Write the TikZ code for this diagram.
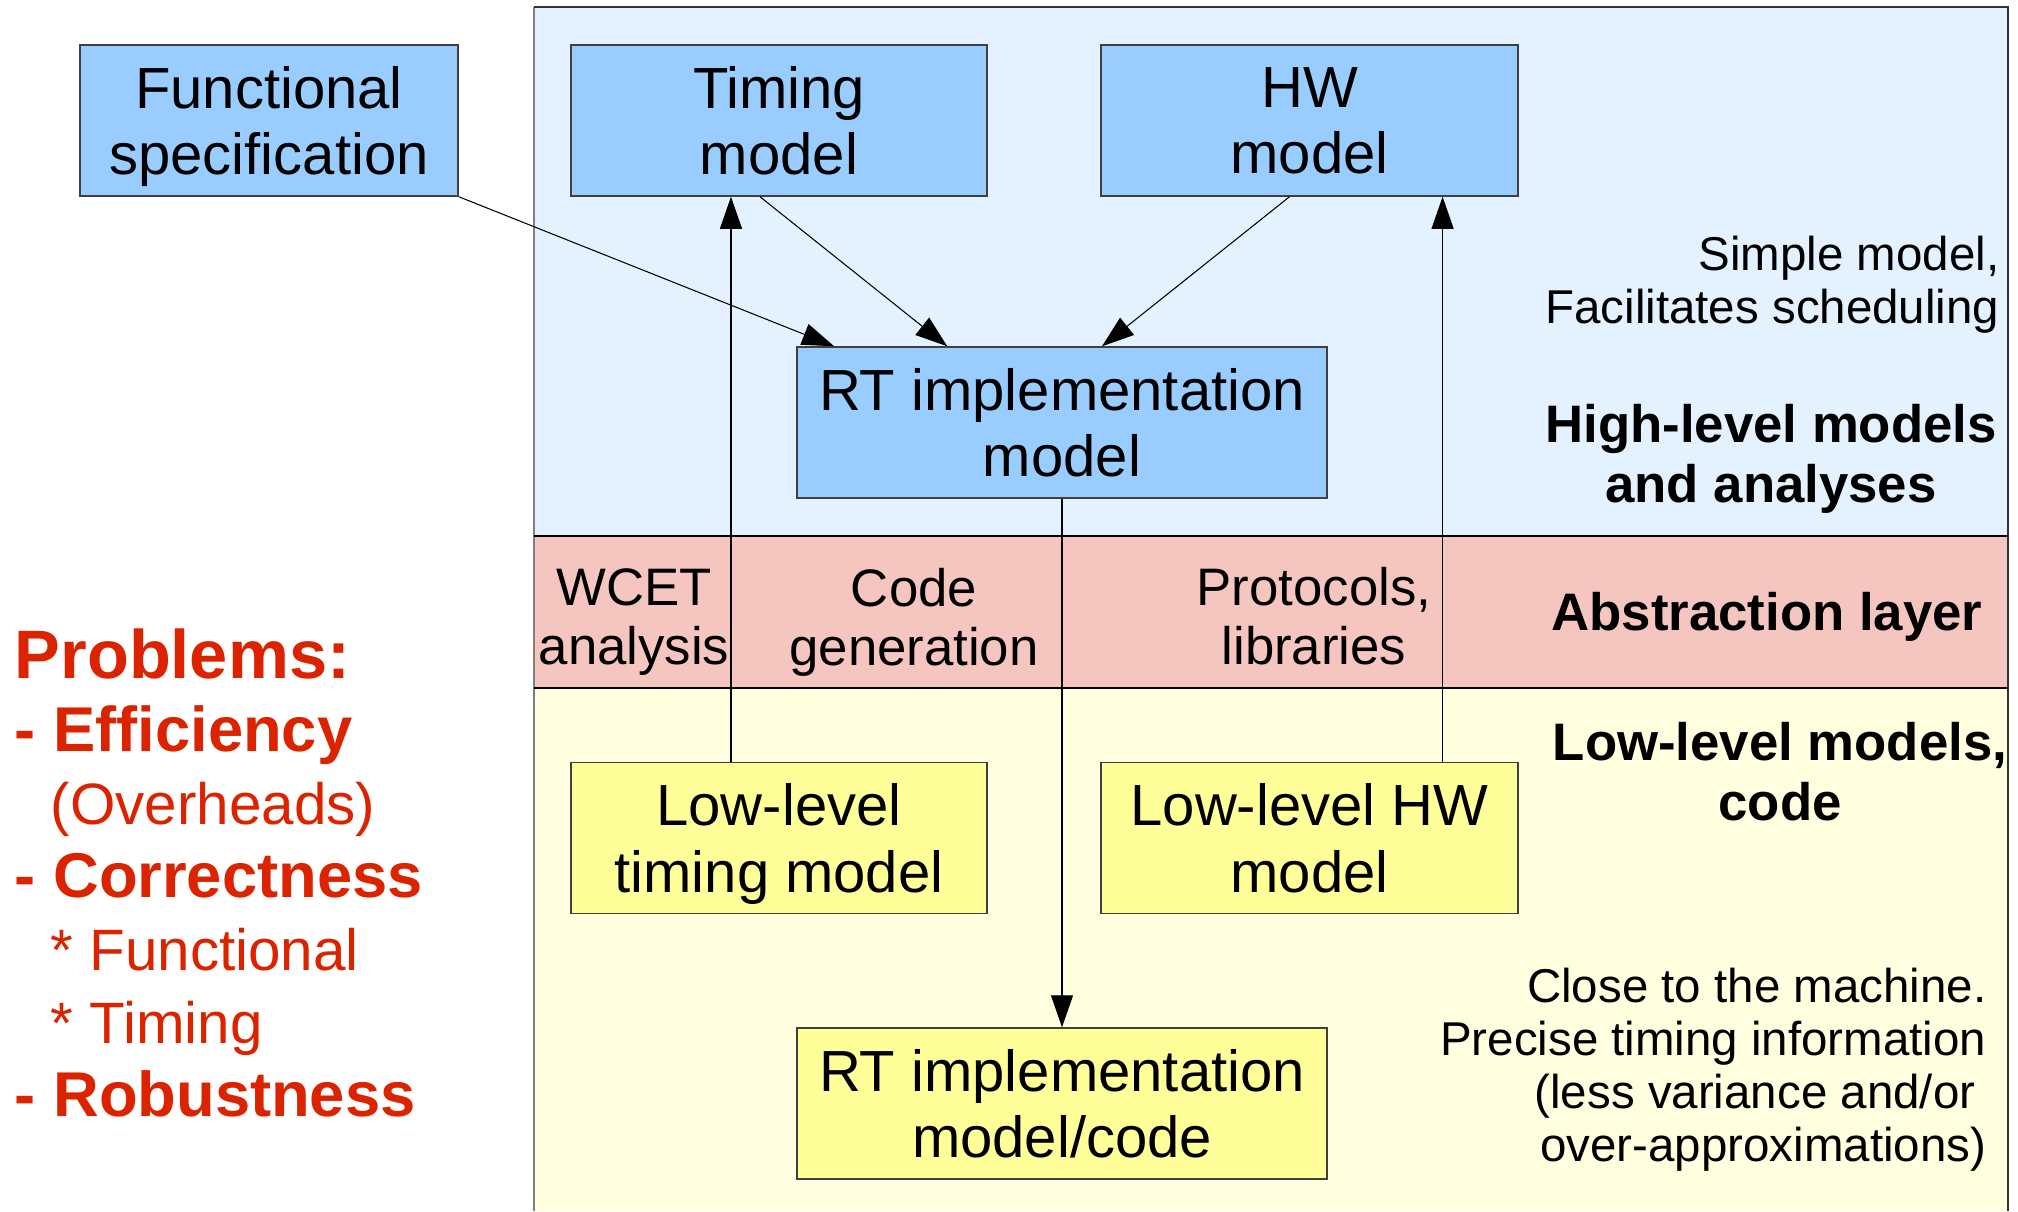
\documentclass[tikz,border=0pt]{standalone}
\usepackage{fontspec}
\setmainfont{Liberation Sans}
\usetikzlibrary{arrows.meta}
\usepackage{xcolor}
\definecolor{boxblue}{HTML}{99CCFF}
\definecolor{boxyellow}{HTML}{FFFF99}
\definecolor{highbg}{HTML}{E4F2FF}
\definecolor{absbg}{HTML}{F5C6BF}
\definecolor{lowbg}{HTML}{FFFFE0}
\definecolor{probred}{HTML}{DC2300}

\begin{document}
\begin{tikzpicture}[x=0.01cm,y=-0.01cm]

\tikzset{model/.style = {shape=rectangle,draw=black!75,line width=0.4pt,inner sep=0pt,minimum height=1.51cm,text depth=0pt,align=center,font=\fontsize{16.5}{18.8}\selectfont}}
\tikzset{hibox/.style = {model,fill=boxblue}}
\tikzset{lobox/.style = {model,fill=boxyellow}}
\tikzset{edge/.style = {->,> = {Triangle[length=3.2mm,width=2.2mm]},line width=0.3pt}}
\tikzset{note/.style = {inner sep=0pt,align=right,anchor=east,font=\fontsize{13.5}{15.1}\selectfont}}
\tikzset{title/.style = {inner sep=0pt,align=center,font=\bfseries\fontsize{15}{17}\selectfont}}
\tikzset{layer/.style = {inner sep=0pt,align=center,font=\fontsize{15}{16.8}\selectfont}}
\tikzset{problem/.style = {inner sep=0pt,anchor=base west,text=probred,font=\bfseries\fontsize{18}{20}\selectfont}}
\tikzset{detail/.style = {problem,font=\fontsize{16.6}{20}\selectfont}}

\useasboundingbox (0,0) rectangle (2018,1211);

%layers
\fill[highbg] (534,7) rectangle (2008,536);
\fill[absbg] (534,536) rectangle (2008,688);
\fill[lowbg] (534,688) rectangle (2008,1211);
\draw[black!50,line width=0.6pt] (534,1211) -- (534,7);
\draw[black!80,line width=0.5pt] (534,7) -- (2008,7) -- (2008,1211);
\draw[line width=0.5pt] (534,536) -- (2008,536);
\draw[line width=0.5pt] (534,688) -- (2008,688);

%models
\node[hibox,minimum width=3.78cm] (func) at (269,120.5) {Functional\\specification};
\node[hibox,minimum width=4.16cm] (timing) at (779,120.5) {Timing\\model};
\node[hibox,minimum width=4.17cm] (hw) at (1309.5,120.5) {HW\\model};
\node[hibox,minimum width=5.30cm] (rt) at (1062,422.5) {RT implementation\\model};
\node[lobox,minimum width=4.16cm] (lltiming) at (779,838) {Low-level\\timing model};
\node[lobox,minimum width=4.17cm] (llhw) at (1309.5,838) {Low-level HW\\model};
\node[lobox,minimum width=5.30cm] (rtcode) at (1062,1103.5) {RT implementation\\model/code};

%layer texts
\node[note] (simple) at (2000,284.5) {Simple model,\\Facilitates scheduling};
\node[title] (high) at (1771,459) {High-level models\\and analyses};
\node[layer] (wcet) at (634,622) {WCET\\analysis};
\node[layer] (codegen) at (914,622) {Code\\generation};
\node[layer] (proto) at (1314,616) {Protocols,\\libraries};
\node[title] (abstr) at (1767,617) {Abstraction layer};
\node[title] (low) at (1780,771.5) {Low-level models,\\code};
\node[note] (close) at (1987,1069.5) {Close to the machine.\\Precise timing information\\(less variance and/or\hbox to 0.11cm{}\\over-approximations)};

%problems
\node[problem,font=\bfseries\fontsize{19.5}{20}\selectfont] (problems) at (14,678) {Problems:};
\node[problem] (efficiency) at (14,751) {- Efficiency};
\node[detail] (overheads) at (50,824) {(Overheads)};
\node[problem] (correctness) at (14,897) {- Correctness};
\node[detail] (functional) at (50,970) {* Functional};
\node[detail] (timingitem) at (50,1043) {* Timing};
\node[problem] (robustness) at (14,1116) {- Robustness};

%edges
\draw[edge] (func.south east) to ([xshift=0.38cm]rt.north west);
\draw[edge] ([xshift=-0.19cm]timing.south) to ([xshift=1.51cm]rt.north west);
\draw[edge] ([xshift=-0.2cm]hw.south) to ([xshift=0.4cm]rt.north);
\draw[edge] ([xshift=-0.48cm]lltiming.north) to ([xshift=-0.48cm]timing.south);
\draw[edge] ([xshift=1.33cm]llhw.north) to ([xshift=1.33cm]hw.south);
\draw[edge] (rt.south) to (rtcode.north);
\end{tikzpicture}
\end{document}
